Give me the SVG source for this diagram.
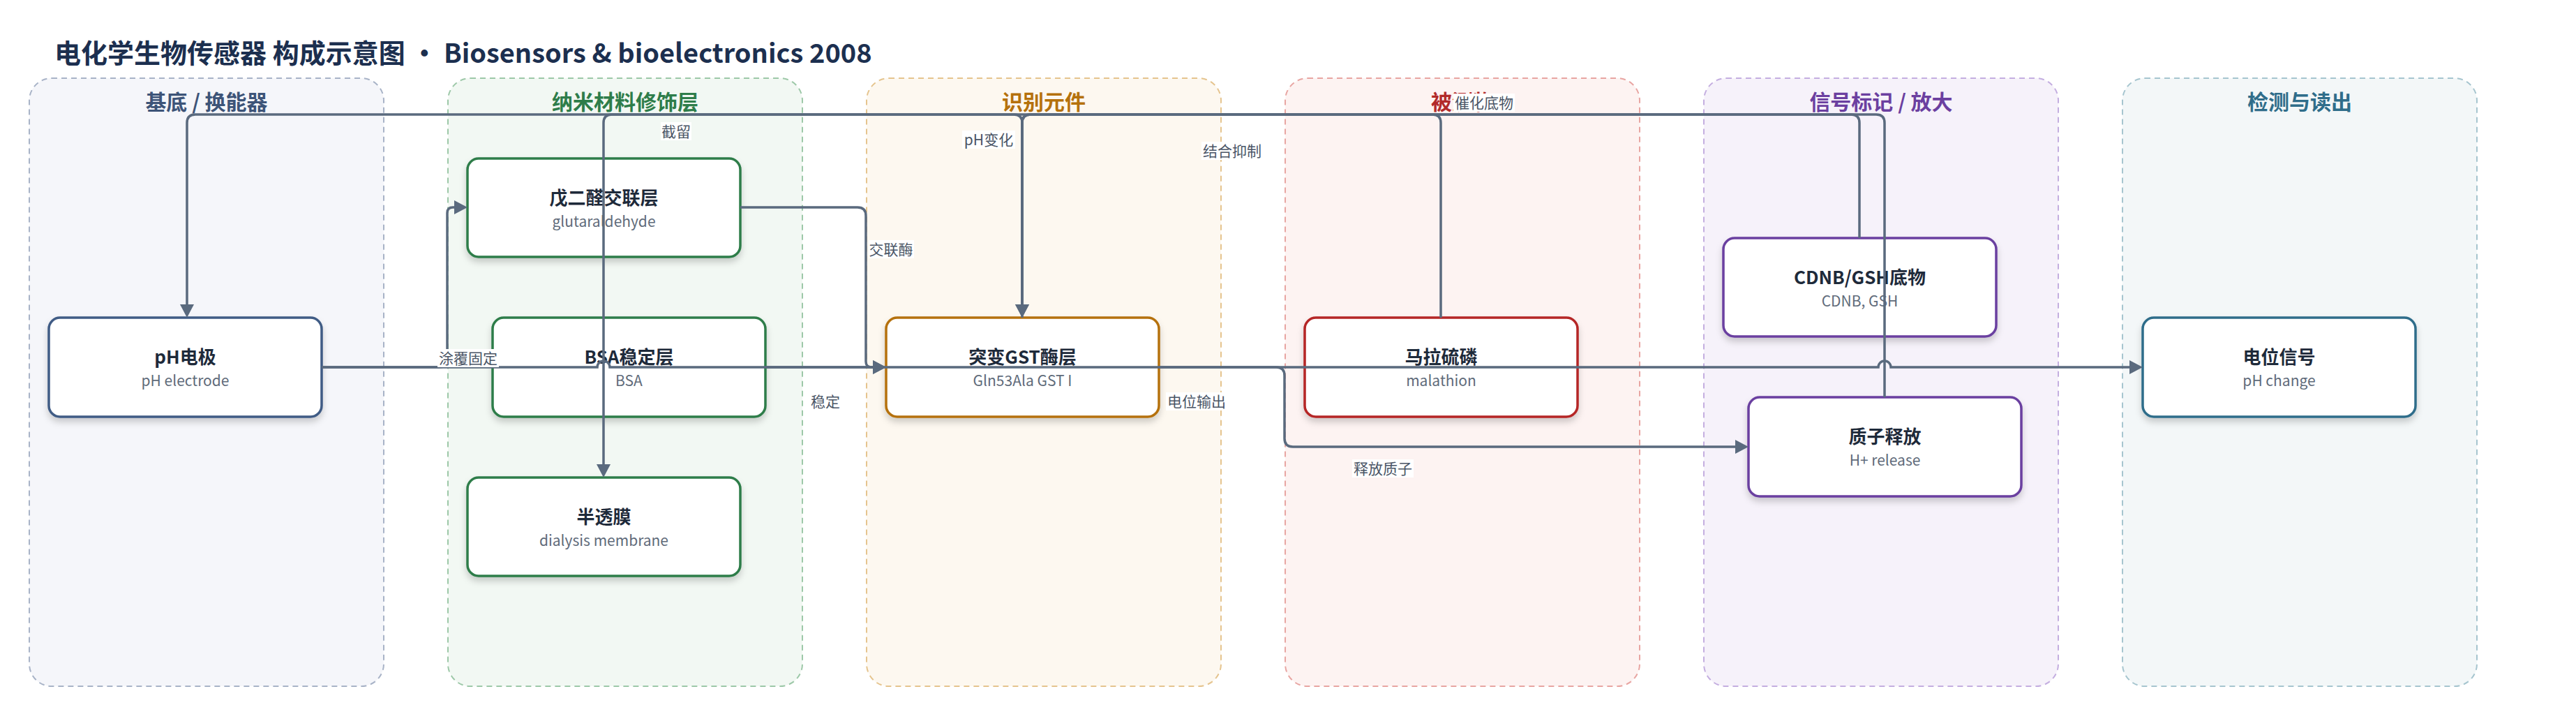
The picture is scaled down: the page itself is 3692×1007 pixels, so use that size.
<svg xmlns="http://www.w3.org/2000/svg" width="3692" height="1007" viewBox="0 0 3692 1007">
<style>
text{font-family:"Noto Sans CJK SC","Noto Sans",sans-serif}
.title{font-size:38px;font-weight:700;fill:#1c2f4f}
.lane{stroke-width:2;stroke-dasharray:8 6}
.lt{font-size:30px;font-weight:700;text-anchor:middle}
.box{fill:#fff;stroke-width:3.5;filter:url(#sh)}
.nt{font-size:26px;font-weight:700;fill:#1e2a3a;text-anchor:middle}
.ns{font-size:21px;fill:#5f6b7a;text-anchor:middle}
.e{fill:none;stroke:#5a6a7e;stroke-width:3.5}
.ea{marker-end:url(#arr)}
.lb{fill:#fff}
.lx{font-size:21px;fill:#4a5566;text-anchor:middle}
</style>
<defs>
<filter id="sh" x="-10%" y="-10%" width="120%" height="130%">
<feDropShadow dx="0" dy="6" stdDeviation="5" flood-color="#000" flood-opacity="0.18"/>
</filter>
<marker id="arr" markerUnits="userSpaceOnUse" markerWidth="20" markerHeight="22" refX="0" refY="10" orient="auto" overflow="visible">
<path d="M0,0 L19,10 L0,20 Z" fill="#5a6a7e"/>
</marker>
</defs>
<rect width="3692" height="1007" fill="#fff"/>
<text class="title" x="78" y="90">电化学生物传感器 构成示意图 · Biosensors &amp; bioelectronics 2008</text>

<g id="lanes">
<g id="lane1"><rect class="lane" x="42" y="112" width="508" height="871" rx="32" fill="#f5f6fa" stroke="#a8b3c7"/><text class="lt" x="296" y="157" fill="#3d5478">基底 / 换能器</text></g>
<g id="lane2"><rect class="lane" x="642" y="112" width="508" height="871" rx="32" fill="#f2f8f3" stroke="#9dc8a8"/><text class="lt" x="896" y="157" fill="#2e7d4a">纳米材料修饰层</text></g>
<g id="lane3"><rect class="lane" x="1242" y="112" width="508" height="871" rx="32" fill="#fdf8f0" stroke="#e5c48e"/><text class="lt" x="1496" y="157" fill="#b5710c">识别元件</text></g>
<g id="lane4"><rect class="lane" x="1842" y="112" width="508" height="871" rx="32" fill="#fdf3f2" stroke="#e8a5a2"/><text class="lt" x="2096" y="157" fill="#b22a2a">被测物</text></g>
<g id="lane5"><rect class="lane" x="2442" y="112" width="508" height="871" rx="32" fill="#f6f2fa" stroke="#c4aee0"/><text class="lt" x="2696" y="157" fill="#6b3fa0">信号标记 / 放大</text></g>
<g id="lane6"><rect class="lane" x="3042" y="112" width="508" height="871" rx="32" fill="#f3f7f8" stroke="#a6c5cf"/><text class="lt" x="3296" y="157" fill="#2f6d8a">检测与读出</text></g>
</g>

<g id="nodes">
<g id="n-ph"><rect class="box" x="70" y="455" width="391" height="142" rx="16" stroke="#3f5b85"/><text class="nt" x="265.5" y="521">pH电极</text><text class="ns" x="265.5" y="553">pH electrode</text></g>
<g id="n-glu"><rect class="box" x="670" y="227" width="391" height="141" rx="16" stroke="#2e7d4a"/><text class="nt" x="865.5" y="293">戊二醛交联层</text><text class="ns" x="865.5" y="325">glutaraldehyde</text></g>
<g id="n-bsa"><rect class="box" x="706" y="455" width="391" height="142" rx="16" stroke="#2e7d4a"/><text class="nt" x="901.5" y="521">BSA稳定层</text><text class="ns" x="901.5" y="553">BSA</text></g>
<g id="n-mem"><rect class="box" x="670" y="684" width="391" height="141" rx="16" stroke="#2e7d4a"/><text class="nt" x="865.5" y="750">半透膜</text><text class="ns" x="865.5" y="782">dialysis membrane</text></g>
<g id="n-gst"><rect class="box" x="1270" y="455" width="391" height="142" rx="16" stroke="#b5710c"/><text class="nt" x="1465.5" y="521">突变GST酶层</text><text class="ns" x="1465.5" y="553">Gln53Ala GST I</text></g>
<g id="n-mal"><rect class="box" x="1870" y="455" width="391" height="142" rx="16" stroke="#b52525"/><text class="nt" x="2065.5" y="521">马拉硫磷</text><text class="ns" x="2065.5" y="553">malathion</text></g>
<g id="n-cdnb"><rect class="box" x="2470" y="341" width="391" height="141" rx="16" stroke="#6b3fa0"/><text class="nt" x="2665.5" y="407">CDNB/GSH底物</text><text class="ns" x="2665.5" y="439">CDNB, GSH</text></g>
<g id="n-h"><rect class="box" x="2506" y="569" width="391" height="142" rx="16" stroke="#6b3fa0"/><text class="nt" x="2701.5" y="635">质子释放</text><text class="ns" x="2701.5" y="667">H+ release</text></g>
<g id="n-sig"><rect class="box" x="3071" y="455" width="391" height="142" rx="16" stroke="#2f6d8a"/><text class="nt" x="3266.5" y="521">电位信号</text><text class="ns" x="3266.5" y="553">pH change</text></g>
</g>

<g id="connectors">
<path class="e ea" d="M1465,455 V176 Q1465,164 1453,164 H877 Q865,164 865,176 V665"/>
<path class="e ea" d="M2065,455 V176 Q2065,164 2053,164 H1477 Q1465,164 1465,176 V436"/>
<path class="e ea" d="M2665,341 V176 Q2665,164 2653,164 H1477 Q1465,164 1465,176 V436"/>
<path class="e ea" d="M2701,569 V176 Q2701,164 2689,164 H280 Q268,164 268,176 V436"/>
<path class="e ea" d="M461,526 H629 Q641,526 641,514 V305 Q641,297 649,297 H651"/>
<path class="e ea" d="M1061,297 H1229 Q1241,297 1241,309 V518 Q1241,526 1249,526 H1251"/>
<path class="e ea" d="M1097,526 H1251"/>
<path class="e ea" d="M1661,526 H1829 Q1841,526 1841,538 V628 Q1841,640 1853,640 H2487"/>
<path class="e ea" d="M461,526 H856 A9,9 0 0 1 874,526 H2692 A9,9 0 0 1 2710,526 H3052"/>
</g>

<g id="labels">
<rect class="lb" x="627" y="500" width="88" height="26"/><text class="lx" x="671" y="521">涂覆固定</text>
<rect class="lb" x="947" y="175" width="44" height="26"/><text class="lx" x="969" y="196">截留</text>
<rect class="lb" x="1245" y="344" width="65" height="26"/><text class="lx" x="1277" y="365">交联酶</text>
<rect class="lb" x="1161" y="562" width="44" height="26"/><text class="lx" x="1183" y="583">稳定</text>
<rect class="lb" x="1379" y="187" width="76" height="26"/><text class="lx" x="1417" y="208">pH变化</text>
<rect class="lb" x="1722" y="203" width="88" height="26"/><text class="lx" x="1766" y="224">结合抑制</text>
<rect class="lb" x="2083" y="134" width="88" height="26"/><text class="lx" x="2127" y="155">催化底物</text>
<rect class="lb" x="1671" y="562" width="88" height="26"/><text class="lx" x="1715" y="583">电位输出</text>
<rect class="lb" x="1938" y="658" width="88" height="26"/><text class="lx" x="1982" y="679">释放质子</text>
</g>
</svg>
